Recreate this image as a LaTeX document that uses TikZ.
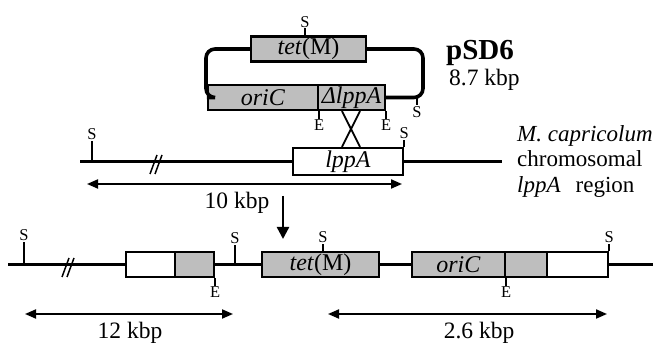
\documentclass[tikz,border=0pt]{standalone}
\usepackage{fontspec}
\setmainfont{Liberation Serif}
\usetikzlibrary{arrows.meta,calc}
\definecolor{genegray}{RGB}{190,190,190}
\begin{document}
\begin{tikzpicture}[x=1pt,y=-1pt,
  gene/.style={draw, line width=2.2pt, fill=genegray, minimum height=25pt, inner sep=0pt,
    font=\fontsize{24}{24}\selectfont},
  wgene/.style={gene, fill=white},
  chrom/.style={line width=3.6pt},
  site/.style={line width=1.5pt},
  sitelab/.style={font=\fontsize{16.5}{16.5}\selectfont, inner sep=0.3pt},
  dimarr/.style={line width=2pt, {Triangle[length=11pt,width=9pt]}-{Triangle[length=11pt,width=9pt]}},
  lab/.style={font=\fontsize{23.5}{23.5}\selectfont, inner sep=0pt},
  sidelab/.style={font=\fontsize{23}{23}\selectfont, inner sep=0pt, anchor=base west},
  brk/.style={line width=1.5pt}]
\useasboundingbox (0,0) rectangle (653,344);

% ---------- plasmid pSD6 ----------
\node[gene, minimum width=115pt] (tetp) at (308.5,49) {\textit{tet}(M)};
\node[gene, minimum width=110pt] (oric) at (263,97.5) {\textit{oriC}};
\node[gene, minimum width=67pt] (dlpp) at (351.5,97.5) {\textit{ΔlppA}};
\coordinate (pl) at (206,49);
\coordinate (pr) at (423,49);
\draw[chrom, rounded corners=9pt] (tetp.west) -- (pl) -- (pl |- oric.west) -- (oric.west);
\draw[chrom, rounded corners=9pt] (dlpp.east) -- (pr |- dlpp.east) -- (pr) -- (tetp.east);
\draw[site] ([xshift=-3.5pt]tetp.north) -- ++(0,-7) node[sitelab, anchor=south] {S};
\draw[site] (417,97.5) -- ++(0,8) node[sitelab, anchor=north] {S};
\draw[site] (oric.south east) -- ++(0,8) node[sitelab, anchor=north] {E};
\draw[site] (dlpp.south east) -- ++(0,8) node[sitelab, anchor=north] {E};

\node[font=\fontsize{29}{29}\selectfont\bfseries, anchor=base west, inner sep=0pt] (psd) at (446,60) {pSD6};
\node[lab, anchor=base west] (size) at (449,86) {8.7 kbp};

% ---------- chromosome ----------
\node[wgene, minimum width=110pt, minimum height=27pt] (lppa) at (348,161.5) {\textit{lppA}};
\coordinate (cl) at (80,161.5);
\coordinate (cr) at (502,161.5);
\draw[chrom] (cl) -- (lppa.west);
\draw[chrom] (lppa.east) -- (cr);
\draw[site] (92,161.5) -- (92,141) node[sitelab, anchor=south] {S};
\draw[site] (lppa.north east) -- ++(0,-7) node[sitelab, anchor=south] {S};
\draw[brk] (150,174) -- (157,155);
\draw[brk] (155,174) -- (162,155);

% crossover
\path ([xshift=8.5pt]dlpp.south) coordinate (xr1) ([xshift=8.5pt]dlpp.south |- lppa.north) coordinate (xr2)
      ([xshift=-9.5pt]dlpp.south) coordinate (xl1) ([xshift=-9.5pt]dlpp.south |- lppa.north) coordinate (xl2);
\draw[line width=1.8pt] (xl1) -- (xr2);
\draw[line width=1.8pt] (xr1) -- (xl2);

\coordinate (d1a) at (87,184);
\coordinate (d1b) at (402,184);
\draw[dimarr] (d1a) -- (d1b);
\node[lab] (k10) at (237,203) {10 kbp};

\node[sidelab] (t1) at (517,142) {\textit{M. capricolum}};
\node[sidelab] (t2) at (517,167) {chromosomal};
\node[sidelab] (t3) at (517,193) {\textit{lppA}\hspace{0.4em} region};

\coordinate (da) at (283,196);
\coordinate (db) at (283,239);
\draw[line width=2.4pt, -{Triangle[length=12pt,width=12pt]}] (da) -- (db);

% ---------- integrated ----------
\node[wgene, minimum width=49pt] (b1w) at (150.5,264.5) {};
\node[gene, minimum width=39pt] (b1g) at (194.5,264.5) {};
\node[gene, minimum width=117pt] (tetb) at (320.5,264.5) {\textit{tet}(M)};
\node[gene, minimum width=93pt] (oricb) at (458.5,264.5) {\textit{oriC}};
\node[gene, minimum width=42pt] (midb) at (526,264.5) {};
\node[wgene, minimum width=61pt] (b2w) at (577.5,264.5) {};
\coordinate (bl) at (8,264.5);
\coordinate (br) at (653,264.5);
\draw[chrom] (bl) -- (b1w.west);
\draw[chrom] (b1g.east) -- (tetb.west);
\draw[chrom] (tetb.east) -- (oricb.west);
\draw[chrom] (b2w.east) -- (br);
\draw[site] (24,264.5) -- (24,242) node[sitelab, anchor=south] {S};
\draw[site] (235,264.5) -- (235,245) node[sitelab, anchor=south] {S};
\draw[site] ([xshift=2.5pt]tetb.north) -- ++(0,-7) node[sitelab, anchor=south] {S};
\draw[site] (b2w.north east) -- ++(0,-7) node[sitelab, anchor=south] {S};
\draw[site] (b1g.south east) -- ++(0,8) node[sitelab, anchor=north] {E};
\draw[site] (oricb.south east) -- ++(0,8) node[sitelab, anchor=north] {E};
\draw[brk] (62,277) -- (69,258);
\draw[brk] (67,277) -- (74,258);

\coordinate (d2a) at (25,314);
\coordinate (d2b) at (233,314);
\draw[dimarr] (d2a) -- (d2b);
\node[lab] (k12) at (130,333) {12 kbp};
\coordinate (d3a) at (328,314);
\coordinate (d3b) at (607,314);
\draw[dimarr] (d3a) -- (d3b);
\node[lab] (k26) at (479,333) {2.6 kbp};
\end{tikzpicture}
\end{document}
